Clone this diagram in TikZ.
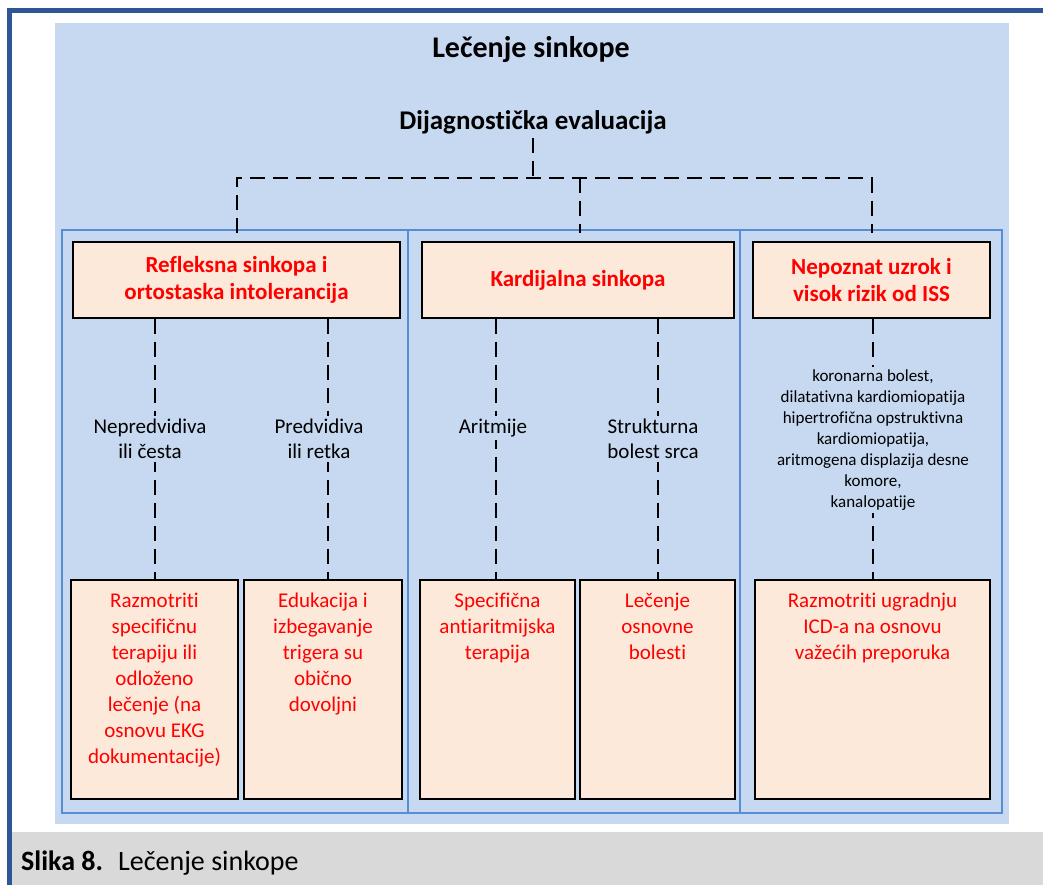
\documentclass[tikz,border=0pt]{standalone}
\usepackage{fontspec}
\setmainfont{Carlito}[Ligatures={NoCommon,NoContextual}]
\usetikzlibrary{positioning}
\definecolor{frameblue}{HTML}{2E5594}
\definecolor{bgblue}{HTML}{C6D9F1}
\definecolor{colblue}{HTML}{558ED5}
\definecolor{peach}{HTML}{FDE9D9}
\definecolor{capgray}{HTML}{D9D9D9}
\definecolor{redtext}{HTML}{FF0000}
\newcommand{\fsz}[2]{\fontsize{#1}{#2}\selectfont}
\tikzset{
  colline/.style={draw=colblue,line width=2.5pt},
  dashline/.style={line width=2pt,dash pattern=on 15pt off 8pt},
  topbox/.style={draw=black,line width=1.2pt,fill=peach,text=redtext,
    font=\fsz{23}{27}\bfseries,align=center,inner sep=0pt,minimum height=76},
  botbox/.style={draw=black,line width=1.2pt,fill=peach,minimum height=219,inner sep=0pt},
  bottext/.style={text=redtext,font=\fsz{21}{26},align=center,inner sep=0pt},
  midlabel/.style={fill=bgblue,font=\fsz{21}{25},align=center,inner sep=3pt,anchor=north},
  risklabel/.style={fill=bgblue,font=\fsz{17}{21},align=center,inner sep=3pt}
}
\begin{document}
\begin{tikzpicture}[x=1pt,y=-1pt]
 \useasboundingbox (0,0) rectangle (1043,885);
 % frame, caption band and background
 \fill[capgray] (12,832) rectangle (1043,885);
 \fill[frameblue] (7,8) rectangle (12,885);
 \fill[frameblue] (7,8) rectangle (1043,13);
 \fill[bgblue] (55,23) rectangle (1009,824);
 % columns
 \draw[colline] (62,230) rectangle (1002,813);
 \draw[colline] (408,230) -- (408,813);
 \draw[colline] (740,230) -- (740,813);

 \node[font=\fsz{30}{36}\bfseries,anchor=base,inner sep=0pt] (title) at (531,58) {Lečenje sinkope};
 \node[font=\fsz{27}{32}\bfseries,anchor=base] (diag) at (533,130) {Dijagnostička evaluacija};

 \node[topbox,minimum width=327] (refl) at (236.5,280) {Refleksna sinkopa i\\ortostaska intolerancija};
 \node[topbox,minimum width=312] (kard) at (578,280) {Kardijalna sinkopa};
 \node[topbox,minimum width=237] (nepoz) at (871.5,280) {Nepoznat uzrok i\\visok rizik od ISS};

 \coordinate (split) at (533,178);
 \draw[dashline] (diag.south) -- (split);
 \draw[dashline,shorten <=8pt,shorten >=8pt] (refl.north) |- (split) -| (nepoz.north);
 \draw[dashline,shorten >=8pt] ([xshift=2pt]kard.north |- split) -- ([xshift=2pt]kard.north);

 % treatment boxes
 \node[botbox,minimum width=167] (razm) at (154.5,689.5) {};
 \node[botbox,minimum width=158] (eduk) at (323,689.5) {};
 \node[botbox,minimum width=155] (spec) at (497.5,689.5) {};
 \node[botbox,minimum width=155] (lecn) at (657.5,689.5) {};
 \node[botbox,minimum width=235] (icd) at (872.5,689.5) {};

 \node[bottext,below=13pt of razm.north] (razmtxt) {Razmotriti\\specifičnu\\terapiju ili\\odloženo\\lečenje (na\\osnovu EKG\\dokumentacije)};
 \node[bottext,below=13pt of eduk.north] (eduktxt) {Edukacija i\\izbegavanje\\trigera su\\obično\\dovoljni};
 \node[bottext,below=13pt of spec.north] (spectxt) {Specifična\\antiaritmijska\\terapija};
 \node[bottext,below=13pt of lecn.north] (lecntxt) {Lečenje\\osnovne\\bolesti};
 \node[bottext,below=13pt of icd.north] (icdtxt) {Razmotriti ugradnju\\ICD-a na osnovu\\važećih preporuka};

 \draw[dashline] (razm.north |- refl.south) -- (razm.north);
 \draw[dashline] ([xshift=5pt]eduk.north |- refl.south) -- ([xshift=5pt]eduk.north);
 \draw[dashline] ([xshift=-1.5pt]spec.north |- kard.south) -- ([xshift=-1.5pt]spec.north);
 \draw[dashline] (lecn.north |- kard.south) -- (lecn.north);
 \draw[dashline] (icd.north |- nepoz.south) -- (icd.north);

 \node[midlabel] (nepred) at (150,416) {Nepredvidiva\\ili česta};
 \node[midlabel] (predv) at (319,416) {Predvidiva\\ili retka};
 \node[midlabel] (aritm) at (493,416) {Aritmije};
 \node[midlabel] (strukt) at (653,416) {Strukturna\\bolest srca};
 \node[risklabel] (rizik) at (873,440) {koronarna bolest,\\dilatativna kardiomiopatija\\hipertrofična opstruktivna\\kardiomiopatija,\\aritmogena displazija desne\\komore,\\kanalopatije};

 \node[font=\fsz{28}{34},anchor=base west,inner sep=0pt] (caption) at (21,870) {\textbf{Slika 8.}\hspace{15pt}Lečenje sinkope};
\end{tikzpicture}
\end{document}
